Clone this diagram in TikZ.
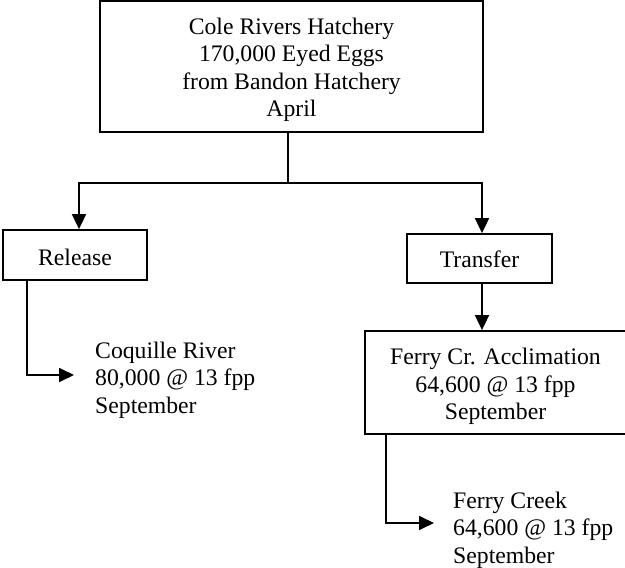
\documentclass[tikz,border=0pt]{standalone}
\usepackage{fontspec}
\setmainfont{Liberation Serif}
\usetikzlibrary{arrows.meta}
\begin{document}
\begin{tikzpicture}[x=1pt,y=-1pt,
  every node/.style={font=\fontsize{23.7}{27.5}\selectfont, inner sep=0pt},
  box/.style={draw, line width=1.8pt, rectangle, align=center},
  txt/.style={align=center},
  conn/.style={line width=1.8pt},
  tri/.style={conn, -{Triangle[length=15pt,width=14pt]}},
  label/.style={align=left, anchor=west}]
\useasboundingbox (0,0) rectangle (625,568);
\node[box, minimum width=383pt, minimum height=131pt] (top) at (291.5,66.5) {};
\node[txt] (toptext) at (291.5,70)
  {Cole Rivers Hatchery\\170,000 Eyed Eggs\\from Bandon Hatchery\\April};
\node[box, minimum width=144pt, minimum height=50pt] (release) at (75,255) {};
\node[txt] (releasetext) at (75,257) {Release};
\node[box, minimum width=145pt, minimum height=49pt] (transfer) at (479.5,258.5) {};
\node[txt] (transfertext) at (479.5,259) {Transfer};
\node[box, minimum width=261pt, minimum height=103pt] (ferrycr) at (495.5,382.5) {};
\node[txt] (ferrycrtext) at (495.5,386.5)
  {Ferry Cr. Acclimation\\64,600 @ 13 fpp\\September};
\node[label] (coq) at (95,380) {Coquille River\\80,000 @ 13 fpp\\September};
\node[label] (fcreek) at (453,530) {Ferry Creek\\64,600 @ 13 fpp\\September};
\coordinate (j) at (288,183);
\coordinate (jl) at (79,183);
\coordinate (jr) at (482,183);
\coordinate (ca) at (27,375);
\coordinate (ct) at (74,375);
\coordinate (fa) at (386,523);
\coordinate (ft) at (434,523);
\draw[conn] (top.south -| j) -- (j);
\draw[tri] (j) -- (jl) -- (release.north -| jl);
\draw[tri] (j) -- (jr) -- (transfer.north -| jr);
\draw[tri] (transfer.south -| jr) -- (ferrycr.north -| jr);
\draw[tri] (release.south -| ca) -- (ca) -- (ct);
\draw[tri] (ferrycr.south -| fa) -- (fa) -- (ft);
\end{tikzpicture}
\end{document}
